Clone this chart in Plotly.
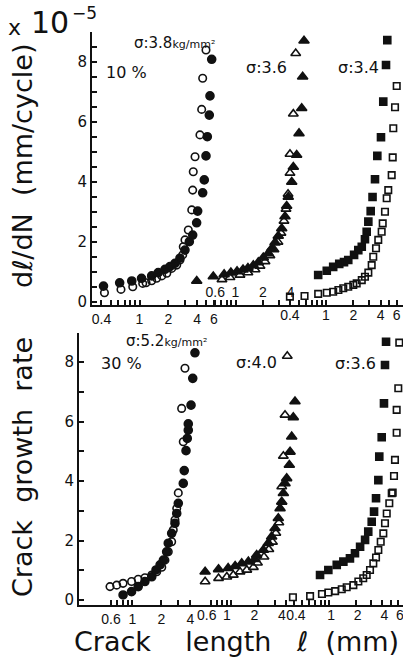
import plotly.graph_objects as go

# ---------------- data (crack length in mm, growth rate in 1e-5 mm/cycle) ----------------
# Top panel (10 %)
top_a_filled_x = [0.42, 0.62, 0.83, 1.05, 1.34, 1.57, 1.85, 2.08, 2.35, 2.65, 2.99, 3.32, 3.6, 3.96, 4.06, 4.58, 4.76, 4.96, 5.12, 5.37, 5.46, 5.69]
top_a_filled_y = [0.53, 0.64, 0.70, 0.79, 0.87, 0.98, 1.09, 1.18, 1.29, 1.46, 1.73, 2.01, 2.23, 2.64, 3.03, 3.64, 4.07, 4.87, 5.51, 6.23, 6.87, 8.09]
top_a_open_x = [0.43, 0.64, 0.85, 1.08, 1.17, 1.34, 1.51, 1.71, 1.93, 2.17, 2.45, 2.65, 2.83, 2.87, 2.99, 3.24, 3.52, 3.6, 3.65, 3.81, 4.29, 4.47, 4.58, 4.96]
top_a_open_y = [0.31, 0.42, 0.51, 0.62, 0.64, 0.71, 0.79, 0.87, 0.96, 1.12, 1.23, 1.40, 1.57, 1.84, 2.07, 2.40, 3.07, 3.73, 4.34, 4.84, 5.57, 6.42, 7.46, 8.40]

top_b_filled_x = [0.375, 0.57, 0.75, 0.89, 1.04, 1.21, 1.37, 1.57, 1.78, 2.02, 2.29, 2.5, 2.72, 2.95, 3.22, 3.5, 3.65, 3.8, 4.15, 4.32, 4.7, 4.99, 5.34, 5.47, 5.66]
top_b_filled_y = [0.70, 0.85, 0.92, 0.98, 1.02, 1.08, 1.13, 1.22, 1.32, 1.48, 1.62, 1.78, 1.98, 2.2, 2.45, 2.85, 3.2, 3.5, 4.0, 4.5, 4.9, 5.62, 6.46, 7.51, 8.71]
top_b_open_x = [0.71, 0.87, 1.12, 1.37, 1.64, 1.86, 2.11, 2.39, 2.65, 2.93, 3.16, 3.41, 3.59, 3.78, 3.97, 3.97, 4.32, 4.59]
top_b_open_y = [0.75, 0.82, 0.90, 0.98, 1.08, 1.2, 1.35, 1.55, 1.75, 2.0, 2.3, 2.7, 3.1, 3.6, 4.3, 4.93, 6.27, 8.29]

top_c_filled_x = [0.82, 1.02, 1.2, 1.4, 1.58, 1.76, 2.04, 2.27, 2.48, 2.69, 2.81, 2.93, 3.11, 3.26, 3.47, 3.68, 4.04, 4.28, 4.59, 4.74]
top_c_filled_y = [0.90, 1.04, 1.17, 1.27, 1.33, 1.40, 1.57, 1.73, 1.84, 2.09, 2.34, 2.68, 3.03, 3.5, 4.09, 4.87, 5.49, 6.68, 7.9, 8.73]
top_c_open_x = [0.4, 0.58, 0.82, 1.02, 1.2, 1.37, 1.55, 1.76, 2.0, 2.18, 2.48, 2.69, 2.93, 3.19, 3.32, 3.56, 3.77, 4.11, 4.22, 4.47, 4.67, 4.86, 5.3, 5.44, 5.52, 5.77, 6.02]
top_c_open_y = [0.18, 0.20, 0.27, 0.31, 0.34, 0.40, 0.46, 0.51, 0.57, 0.62, 0.73, 0.84, 0.98, 1.23, 1.51, 1.79, 2.07, 2.34, 2.62, 3.01, 3.46, 3.73, 4.23, 4.82, 5.79, 6.49, 7.2]

# Bottom panel (30 %)
bot_a_filled_x = [0.80, 0.98, 1.15, 1.35, 1.59, 1.76, 1.94, 2.10, 2.27, 2.36, 2.56, 2.77, 2.89, 3.0, 3.38, 3.46, 3.61, 3.72, 3.81, 3.81, 4.07, 4.24, 4.47]
bot_a_filled_y = [0.17, 0.28, 0.45, 0.62, 0.78, 1.01, 1.18, 1.34, 1.62, 1.91, 2.24, 2.58, 2.91, 3.25, 3.92, 4.35, 5.02, 5.43, 5.71, 5.92, 6.55, 7.45, 8.31]
bot_a_open_x = [0.585, 0.687, 0.80, 0.98, 1.15, 1.35, 1.59, 1.79, 2.02, 2.18, 2.36, 2.56, 2.66, 2.77, 2.89, 3.0, 3.38, 3.25, 3.52]
bot_a_open_y = [0.45, 0.50, 0.56, 0.62, 0.70, 0.75, 0.84, 0.95, 1.10, 1.34, 1.62, 1.96, 2.35, 2.69, 3.08, 3.6, 5.32, 6.44, 7.79]

bot_b_filled_x = [0.52, 0.73, 0.93, 1.11, 1.31, 1.55, 1.83, 1.91, 2.26, 2.56, 2.79, 3.04, 3.30, 3.45, 3.60, 3.75, 3.91, 4.08, 4.36, 4.44, 4.63, 4.82, 5.03]
bot_b_filled_y = [0.95, 1.03, 1.07, 1.14, 1.23, 1.29, 1.37, 1.51, 1.68, 1.91, 2.13, 2.41, 2.75, 3.08, 3.30, 3.59, 3.92, 4.09, 4.54, 4.98, 5.49, 6.14, 6.67]
bot_b_open_x = [0.52, 0.73, 0.90, 1.06, 1.255, 1.49, 1.76, 1.95, 2.3, 2.6, 2.85, 3.1, 3.35, 3.60, 3.75, 3.91, 4.14]
bot_b_open_y = [0.62, 0.73, 0.78, 0.84, 0.95, 1.01, 1.10, 1.25, 1.45, 1.7, 1.95, 2.25, 2.6, 3.81, 4.84, 6.22, 8.2]

bot_c_filled_x = [0.79, 0.98, 1.22, 1.45, 1.72, 1.96, 2.24, 2.55, 2.77, 3.03, 3.22, 3.39, 3.60, 3.69, 3.93, 4.17, 4.28, 4.40]
bot_c_filled_y = [0.84, 1.01, 1.18, 1.29, 1.40, 1.57, 1.79, 2.02, 2.30, 2.63, 2.97, 3.42, 4.03, 4.82, 5.47, 6.61, 7.9, 8.68]
bot_c_open_x = [0.39, 0.61, 0.83, 0.98, 1.17, 1.39, 1.58, 1.88, 2.14, 2.43, 2.66, 2.90, 3.16, 3.39, 3.60, 3.83, 4.10, 4.28, 4.48, 4.79, 5.10, 5.23, 5.41, 5.55, 5.80, 5.80, 6.05, 6.21]
bot_c_open_y = [0.09, 0.13, 0.20, 0.25, 0.30, 0.36, 0.43, 0.50, 0.62, 0.73, 0.84, 1.01, 1.23, 1.43, 1.68, 1.96, 2.24, 2.58, 2.91, 3.25, 3.59, 3.61, 4.17, 4.71, 5.62, 6.39, 7.12, 8.65]

# tick values / labels (unlabelled entries are minor ticks)
ticks_04_6 = [0.4, 0.5, 0.6, 0.7, 0.8, 0.9, 1, 2, 3, 4, 5, 6]
labels_04_6 = ["0.4", "", "", "", "", "", "1", "2", "", "4", "", "6"]
ticks_06_4 = [0.6, 0.7, 0.8, 0.9, 1, 2, 3, 4]
labels_06_4 = ["0.6", "", "", "", "1", "2", "", "4"]
y_ticks_top = [0, 0.5, 1, 1.5, 2, 2.5, 3, 3.5, 4, 4.5, 5, 5.5, 6, 6.5, 7, 7.5, 8, 8.5, 9]
y_labels_top = ["0", "", "", "", "2", "", "", "", "4", "", "", "", "6", "", "", "", "8", "", ""]
y_ticks_bot = [0, 1, 2, 3, 4, 5, 6, 7, 8]
y_labels_bot = ["0", "", "2", "", "4", "", "6", "", "8"]

# ---------------- figure ----------------
W, H = 403, 658
INK = "#111111"
TICKFONT = "Liberation Sans, Arial, sans-serif"
TITLEFONT = "DejaVu Sans, sans-serif"

fig = go.Figure()


def add(x, y, xa, ya, symbol, size, lw=1.6):
    fig.add_trace(go.Scatter(
        x=x, y=y, xaxis=xa, yaxis=ya, mode="markers", showlegend=False, hoverinfo="skip",
        marker=dict(symbol=symbol, size=size, color=INK, line=dict(color=INK, width=lw))))


add(top_a_filled_x, top_a_filled_y, "x", "y", "circle", 8)
add(top_a_open_x, top_a_open_y, "x", "y", "circle-open", 7.5)
add(top_b_filled_x, top_b_filled_y, "x2", "y", "triangle-up", 9)
add(top_b_open_x, top_b_open_y, "x2", "y", "triangle-up-open", 8.5)
add(top_c_filled_x, top_c_filled_y, "x3", "y", "square", 7)
add(top_c_open_x, top_c_open_y, "x3", "y", "square-open", 6.5)
add(bot_a_filled_x, bot_a_filled_y, "x4", "y2", "circle", 8)
add(bot_a_open_x, bot_a_open_y, "x4", "y2", "circle-open", 7.5)
add(bot_b_filled_x, bot_b_filled_y, "x5", "y2", "triangle-up", 9)
add(bot_b_open_x, bot_b_open_y, "x5", "y2", "triangle-up-open", 8.5)
add(bot_c_filled_x, bot_c_filled_y, "x6", "y2", "square", 7)
add(bot_c_open_x, bot_c_open_y, "x6", "y2", "square-open", 6.5)


def xcfg(rng, vals, labels, anchor, domain=None, overlay=None, inside=False, shift=0):
    d = dict(type="log", range=rng, tickmode="array", tickvals=vals, ticktext=labels,
             ticks="inside", ticklen=5, tickwidth=1.5, tickcolor=INK,
             showgrid=False, zeroline=False, anchor=anchor, automargin=False,
             ticklabeloverflow="allow", ticklabelstandoff=0, ticklabelshift=shift,
             tickfont=dict(size=14, color=INK, family=TICKFONT),
             ticklabelposition="inside" if inside else "outside")
    if overlay:
        d.update(overlaying=overlay, showline=False)
    else:
        d.update(domain=domain, showline=True, linecolor=INK, linewidth=2)
    return d


def ycfg(domain, rng, vals, labels, anchor):
    return dict(domain=domain, range=rng, anchor=anchor, tickmode="array", tickvals=vals,
                ticktext=labels, ticks="inside", ticklen=5, tickwidth=1.5, tickcolor=INK,
                showline=True, linecolor=INK, linewidth=2, showgrid=False, zeroline=False,
                automargin=False, ticklabeloverflow="allow",
                tickfont=dict(size=15, color=INK, family=TITLEFONT))


top_dom_x = [92 / W, 1.0]
bot_dom_x = [79 / W, 1.0]
top_dom_y = [1 - 305 / H, 1 - 32 / H]
bot_dom_y = [1 - 605 / H, 1 - 333 / H]

fig.update_layout(
    width=W, height=H, margin=dict(l=0, r=0, t=0, b=0),
    paper_bgcolor="white", plot_bgcolor="white",
    xaxis=xcfg([-0.4969, 2.7563], ticks_04_6, labels_04_6, "y", domain=top_dom_x),
    xaxis2=xcfg([-1.5769, 1.8407], ticks_06_4, labels_06_4, "y", overlay="x", inside=True),
    xaxis3=xcfg([-2.5799, 0.8490], ticks_04_6, labels_04_6, "y", overlay="x"),
    xaxis4=xcfg([-0.555, 2.813], ticks_06_4, labels_06_4, "y2", domain=bot_dom_x),
    xaxis5=xcfg([-1.667, 1.886], ticks_06_4, labels_06_4, "y2", overlay="x4", shift=-4),
    xaxis6=xcfg([-2.826, 0.835], ticks_04_6, labels_04_6, "y2", overlay="x4", shift=2),
    yaxis=ycfg(top_dom_y, [-0.1, 9.0], y_ticks_top, y_labels_top, "x"),
    yaxis2=ycfg(bot_dom_y, [-0.168, 8.975], y_ticks_bot, y_labels_bot, "x4"),
)


def note(text, px, py, size, xanchor="center", yanchor="middle", angle=0, family=TITLEFONT):
    fig.add_annotation(text=text, x=px / W, y=1 - py / H, xref="paper", yref="paper",
                       xanchor=xanchor, yanchor=yanchor, showarrow=False, textangle=angle,
                       font=dict(size=size, color=INK, family=family))


NB = "\u00a0"
note("x", 15, 28, 22)
note("10", 50, 22, 30)
note("\u22125", 70, 1, 17, xanchor="left", yanchor="top")
note("d\u2113/dN" + NB * 2 + "(mm/cycle)", 22, 166, 27, angle=-90)
note("Crack" + NB * 2 + "growth" + NB * 2 + "rate", 22, 467, 27, angle=-90)
note("Crack" + NB * 4 + "length" + NB * 3 + "\u2113" + NB * 2 + "(mm)", 236, 641, 27)

note("\u03c3:3.8<span style='font-size:11px'>kg/mm\u00b2</span>", 132, 43, 15, xanchor="left")
note("10 %", 126, 73, 16)
note("\u03c3:3.6", 266, 68, 16)
note("\u03c3:3.4", 358, 68, 16)
note("\u03c3:5.2<span style='font-size:11px'>kg/mm\u00b2</span>", 124, 341, 15, xanchor="left")
note("30 %", 121, 363, 16)
note("\u03c3:4.0", 256, 362, 16)
note("\u03c3:3.6", 355, 363, 16)

fig.write_html("out.html")
